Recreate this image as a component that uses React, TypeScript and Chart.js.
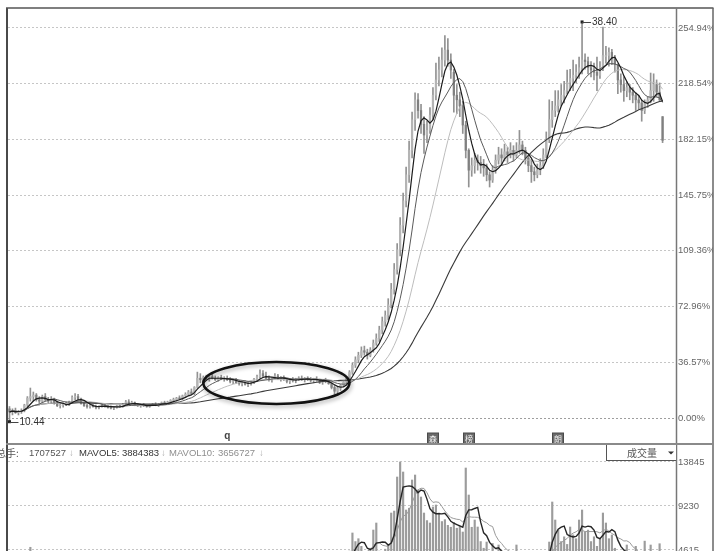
import React, { useEffect, useRef } from 'react';
import { Chart, registerables } from 'chart.js';

Chart.register(...registerables);

// ---------- data ----------
const BASE_PRICE = 10.70; // price at 0.00%
const SLOTS = 224; // category slots on the x axis (last few empty)

// [open, high, low, close] in % change from BASE_PRICE
const candles: [number, number, number, number][] = [
  [6, 7.5, -2.43, 4], [4, 6, 2, 5], [5, 6.5, 3, 3.5], [3.5, 5, 2, 4.5], [4.5, 6, 3, 5],
  [5, 9, 4, 8.5], [8.5, 14, 7.5, 13], [13, 19.6, 11, 14], [14, 17, 11, 15], [15, 16, 11, 12],
  [12, 14, 9.5, 11], [11, 15, 10, 14], [14, 16, 11, 12], [12, 13.5, 10, 11], [11, 14, 10, 12.5],
  [12.5, 13, 9, 10], [10, 11, 7.5, 8], [8, 9.5, 6.5, 8.5], [8.5, 10, 7, 9], [9, 10.5, 8, 8.5],
  [8.5, 11, 8, 10.5], [10.5, 14.5, 10, 13.5], [13.5, 16, 12, 14], [14, 15.5, 11.5, 12.5], [12.5, 13, 9, 9.5],
  [9.5, 10.5, 7.5, 8], [8, 9, 6.5, 7.5], [7.5, 9, 6.5, 8], [8, 9, 7, 7.5], [7.5, 8.5, 6, 7],
  [7, 8, 6, 7.5], [7.5, 9, 7, 8.5], [8.5, 9, 7, 7.5], [7.5, 8.5, 6.5, 7], [7, 8, 6, 6.5],
  [6.5, 7.5, 5.5, 7], [7, 8.5, 6.5, 8], [8, 9, 7, 7.5], [7.5, 9.5, 7, 9], [9, 11.5, 8.5, 10.5],
  [10.5, 12, 9, 9.5], [9.5, 11, 8.5, 10], [10, 10.5, 8, 8.5], [8.5, 9.5, 7.5, 8], [8, 9, 7, 8.5],
  [8.5, 9.5, 7.5, 8], [8, 8.5, 7, 7.5], [7.5, 9, 7, 8.5], [8.5, 9.5, 8, 9], [9, 10, 8, 8.5],
  [8.5, 9.5, 7.5, 9], [9, 10.5, 8.5, 10], [10, 11, 9, 9.5], [9.5, 11, 9, 10.5], [10.5, 12, 10, 11.5],
  [11.5, 13, 10.5, 12], [12, 13.5, 11, 13], [13, 14.5, 12, 12.5], [12.5, 15, 12, 14.5], [14.5, 16.5, 13.5, 15.5],
  [15.5, 18, 14.5, 17], [17, 19, 15.5, 16], [16, 20.5, 15, 20], [20, 30, 19.5, 26], [26, 29, 23, 25],
  [25, 27.5, 23.5, 26.5], [26.5, 28, 24.5, 25.5], [25.5, 27.5, 24, 27], [27, 28.5, 25.5, 26], [26, 27.5, 24.5, 25],
  [25, 27, 24, 26.5], [26.5, 28, 25, 25.5], [25.5, 27, 24, 26], [26, 27.5, 24.5, 25], [25, 26.5, 23, 24],
  [24, 25.5, 22.5, 25], [25, 26, 22.5, 23], [23, 24.5, 21.5, 22.5], [22.5, 24, 21, 23.5], [23.5, 24.5, 21.5, 22],
  [22, 23.5, 20.5, 22.5], [22.5, 24, 21.5, 23.5], [23.5, 26, 22.5, 25.5], [25.5, 28, 24.5, 27], [27, 31.5, 26, 29],
  [29, 31, 26.5, 27.5], [27.5, 30, 25.5, 26], [26, 27.5, 24, 25], [25, 26.5, 23.5, 26], [26, 29, 25, 27.5],
  [27.5, 28.5, 25, 25.5], [25.5, 27, 24, 26.5], [26.5, 27.5, 24.5, 25], [25, 26, 23, 24], [24, 25.5, 22.5, 25],
  [25, 26.5, 23.5, 24.5], [24.5, 26, 23, 25.5], [25.5, 27, 24.5, 26], [26, 27.5, 24.5, 25], [25, 26.5, 23.5, 26],
  [26, 27, 24.5, 25.5], [25.5, 26.5, 23.5, 24.5], [24.5, 26, 23, 25.5], [25.5, 27, 24, 24.5], [24.5, 25.5, 22.5, 23.5],
  [23.5, 25, 22, 24.5], [24.5, 26, 23, 24], [24, 25, 22, 22.5], [22.5, 23.5, 19, 20], [20, 21.5, 15.5, 17.5],
  [17.5, 20.5, 16, 19.5], [19.5, 22, 18, 21.5], [21.5, 24, 20.5, 23.5], [23.5, 26.5, 22.5, 26], [26, 31, 25, 30],
  [30, 36, 28.5, 34.5], [34.5, 40, 33, 38], [38, 43, 36, 41], [41, 46.5, 39.5, 44], [44, 47, 41, 43],
  [43, 45, 38.5, 41], [41, 46, 40, 44.5], [44.5, 51, 43, 49], [49, 55, 47.5, 52], [52, 60, 50, 57.5],
  [57.5, 66, 55, 63], [63, 70, 60, 67], [67, 78, 64, 74], [74, 88, 72, 84], [84, 101, 81, 97],
  [97, 114, 94, 110], [110, 131, 106, 126], [126, 147, 121, 142], [142, 164, 138, 159], [159, 181, 154, 175],
  [175, 200, 170, 195], [195, 212.5, 188, 208], [208, 212, 196, 201], [201, 205, 186, 192], [192, 197, 173, 185],
  [185, 194, 180, 188], [188, 203, 186, 198], [198, 216, 195, 211], [211, 232, 208, 221], [221, 236, 217, 227.5],
  [227.5, 242, 223, 234], [234, 250, 230, 240.5], [240.5, 248, 230, 234], [234, 238, 222, 227.5], [226, 228, 200, 211],
  [211, 218, 199, 208], [208, 213, 197, 204], [204, 207, 186, 191.5], [191.5, 194, 170, 175], [175, 176, 151, 162],
  [162, 170, 158, 165], [165, 173, 160, 168.5], [168.5, 172, 162, 167], [167, 171, 160, 165], [165, 169, 158, 163.5],
  [163.5, 166, 155, 159], [159, 161, 151, 155.5], [155.5, 165, 154, 162], [162, 172, 160, 168.5], [168.5, 177, 166, 172],
  [172, 176, 165, 170], [170, 179, 168, 174], [174, 177, 167, 172], [172, 180, 170, 175], [175, 178, 168, 172],
  [172, 180, 170, 175], [175, 188, 173, 178.5], [178.5, 181, 172, 175], [175, 177, 166, 170], [170, 172, 161, 165],
  [165, 169, 154, 161], [161, 164, 155, 159], [159, 166, 157, 162], [162, 169.5, 159, 165], [165, 176, 163, 172],
  [172, 187, 170, 182], [182, 208, 180, 195], [195, 207, 190, 201], [201, 214, 197, 204], [204, 214, 200, 208],
  [208, 218, 204, 211], [211, 220, 206, 214], [214, 227.5, 212, 219.5], [219.5, 228, 214, 222], [222, 234, 214, 224],
  [224, 231, 219, 226], [226, 236, 222, 229], [229, 258.9, 225, 234], [234, 238, 228, 233], [233, 236, 225, 229],
  [229, 233, 223, 227.5], [227.5, 232, 221, 226], [226, 236, 214, 224], [224, 233, 222, 229], [229, 255.5, 227, 237],
  [237, 243, 232, 237], [237, 242, 230, 239], [239, 241, 231, 235], [235, 237, 226, 231], [231, 231.5, 212, 221],
  [221, 225, 213, 218], [218, 223, 207, 214], [214, 220, 210, 216], [216, 218, 208, 213], [213, 216, 206, 211],
  [211, 212.5, 201, 208], [208, 211, 202, 206], [206, 208, 194, 201], [201, 208, 199, 205.5], [205.5, 210, 203, 208],
  [208, 225.5, 206, 214], [214, 225, 207, 218], [218, 221, 210, 213], [213, 219, 207, 208], [197, 197, 180, 181.5],
];

// volume per bar (axis units)
const volumes: number[] = [
  1800, 1500, 1300, 1400, 1600, 2600, 3800, 4900, 3600, 2500,
  2000, 2300, 1900, 1600, 1700, 1500, 1300, 1200, 1400, 1300,
  1600, 2600, 3100, 2400, 1800, 1400, 1200, 1100, 1000, 1100,
  900, 1000, 1200, 1000, 900, 850, 950, 1100, 1300, 1900,
  1700, 1400, 1200, 1000, 950, 1000, 900, 1100, 1200, 1100,
  1200, 1500, 1400, 1600, 1900, 2100, 2300, 2000, 2400, 2700,
  3000, 2800, 3400, 4300, 3900, 3200, 2800, 2600, 2400, 2200,
  2300, 2100, 2000, 1900, 2000, 1800, 1700, 1900, 1600, 1700,
  1800, 2000, 2400, 2900, 3600, 3100, 2600, 2200, 2000, 2300,
  2100, 1900, 1800, 1700, 1900, 1800, 1700, 1900, 2000, 1800,
  1700, 1600, 1800, 1700, 1600, 1500, 1700, 1900, 2400, 3000,
  2600, 2800, 3200, 3900, 4500, 6400, 5500, 5800, 5000, 4200,
  3500, 4800, 6710, 7446, 4500, 3800, 4700, 5200, 8494, 8700,
  12271, 13845, 12796, 8810, 9000, 11957, 12481, 10908, 10173, 8494,
  7700, 7446, 9125, 9335, 8494, 7600, 7800, 7200, 7000, 7500,
  6900, 7100, 6500, 13215, 10383, 7000, 7760, 7027, 5500, 4800,
  5450, 4300, 5300, 4000, 5140, 3800, 3600, 4200, 3500, 3900,
  5140, 3400, 3600, 3100, 3300, 3800, 3500, 3200, 3600, 4000,
  4400, 5450, 9650, 7760, 6700, 5500, 6000, 5200, 7027, 6200,
  5800, 7760, 8810, 6500, 6700, 5500, 6000, 5000, 5800, 8494,
  7446, 5800, 6190, 4800, 4000, 4200, 3900, 5140, 4000, 4200,
  5000, 2700, 2400, 5545.4, 1500, 5140, 4300, 3000, 5274.4, 1707.5,
];

const priceTicks = [0, 36.57, 72.96, 109.36, 145.75, 182.15, 218.54, 254.94];
const volumeTicks = [4615, 9230, 13845];
const maPeriods = [5, 10, 20, 50];
const maColors = ['#1c1c1c', '#5a5a5a', '#bdbdbd', '#3a3a3a'];
const maWidths = [1.2, 1, 1, 1.1];
const volMaPeriods = [5, 10];
const volMaColors = ['#262626', '#9a9a9a'];
const legendParts = ['总手:', '1707527', '↓', 'MAVOL5:', '3884383', '↓', 'MAVOL10:', '3656727', '↓'];
const eventMarkers = [
  { bar: 73, text: 'q', boxed: false },
  { bar: 142, text: '森', boxed: true },
  { bar: 154, text: '榜', boxed: true },
  { bar: 184, text: '朗', boxed: true },
];
const ellipseRange = { fromBar: 65, toBar: 114, topPct: 36.6, bottomPct: 9.2 };
const PANEL_TITLE = '成交量';

// axis ranges
const PRICE_MIN = -16.34;
const PRICE_MAX = 267.36;
const VOL_MIN = 4510;
const VOL_MAX = 15628;

// ---------- layout ----------
const W = 720;
const MAIN_H = 445;
const VOL_H = 106;
const AXIS_W = 44;
const OUTER_RIGHT = 713;
const FONT = '"Liberation Sans", Arial, "Noto Sans CJK SC", sans-serif';
const CJK = '"Noto Sans CJK SC", "Liberation Sans", sans-serif';

function movingAverage(values: number[], period: number): number[] {
  return values.map((_, i) => {
    const start = Math.max(0, i - period + 1);
    let s = 0;
    for (let k = start; k <= i; k++) s += values[k];
    return s / (i - start + 1);
  });
}

const labels = Array.from({ length: SLOTS }, (_, i) => String(i));
const closes = candles.map((c) => c[3]);

function line(ctx: any, x1: number, y1: number, x2: number, y2: number) {
  ctx.beginPath();
  ctx.moveTo(x1, y1);
  ctx.lineTo(x2, y2);
  ctx.stroke();
}

const mainDecor = {
  id: 'mainDecor',
  afterDatasetsDraw(chart: any) {
    const { ctx, chartArea: a } = chart;
    const xs = chart.scales.x;
    const ys = chart.scales.y;
    // ellipse annotation
    const x1 = xs.getPixelForValue(ellipseRange.fromBar);
    const x2 = xs.getPixelForValue(ellipseRange.toBar);
    const y1 = ys.getPixelForValue(ellipseRange.topPct);
    const y2 = ys.getPixelForValue(ellipseRange.bottomPct);
    ctx.save();
    ctx.shadowColor = 'rgba(0,0,0,0.35)';
    ctx.shadowBlur = 4;
    ctx.shadowOffsetX = 1;
    ctx.shadowOffsetY = 2;
    ctx.strokeStyle = '#121212';
    ctx.lineWidth = 2.6;
    ctx.beginPath();
    ctx.ellipse((x1 + x2) / 2, (y1 + y2) / 2, (x2 - x1) / 2, (y2 - y1) / 2, 0, 0, Math.PI * 2);
    ctx.stroke();
    ctx.restore();

    // extreme labels
    let hi = 0;
    let lo = 0;
    candles.forEach((c, i) => {
      if (c[1] > candles[hi][1]) hi = i;
      if (c[2] < candles[lo][2]) lo = i;
    });
    const extreme = (idx: number, pct: number) => {
      const px = xs.getPixelForValue(idx);
      const py = ys.getPixelForValue(pct);
      ctx.save();
      ctx.fillStyle = '#222';
      ctx.fillRect(px - 1.5, py - 1.5, 3, 3);
      ctx.strokeStyle = '#444';
      ctx.lineWidth = 1;
      line(ctx, px, Math.round(py) + 0.5, px + 9, Math.round(py) + 0.5);
      ctx.fillStyle = '#333';
      ctx.font = `10px ${FONT}`;
      ctx.textBaseline = 'middle';
      ctx.textAlign = 'left';
      ctx.fillText((BASE_PRICE * (1 + pct / 100)).toFixed(2), px + 10, py + 0.5);
      ctx.restore();
    };
    extreme(hi, candles[hi][1]);
    extreme(lo, candles[lo][2]);

    // event markers along the bottom
    eventMarkers.forEach((m) => {
      const px = xs.getPixelForValue(m.bar);
      ctx.save();
      if (m.boxed) {
        ctx.fillStyle = '#6a6a6a';
        ctx.fillRect(Math.round(px) - 5.5, a.bottom - 10, 11, 11);
        ctx.strokeStyle = '#4a4a4a';
        ctx.lineWidth = 1;
        ctx.strokeRect(Math.round(px) - 5.5, a.bottom - 10, 11, 11);
        ctx.fillStyle = '#f4f4f4';
        ctx.font = `8px ${CJK}`;
        ctx.textAlign = 'center';
        ctx.textBaseline = 'middle';
        ctx.fillText(m.text, Math.round(px), a.bottom - 4.5);
      } else {
        ctx.fillStyle = '#444';
        ctx.font = `bold 10px ${FONT}`;
        ctx.textAlign = 'center';
        ctx.textBaseline = 'middle';
        ctx.fillText(m.text, px, a.bottom - 7);
      }
      ctx.restore();
    });
  },
  afterDraw(chart: any) {
    const { ctx, chartArea: a, width, height } = chart;
    ctx.save();
    ctx.fillStyle = '#fff';
    ctx.fillRect(OUTER_RIGHT, 0, width - OUTER_RIGHT, height);
    ctx.fillRect(0, 0, width, a.top - 1.5);
    ctx.strokeStyle = '#4a4a4a';
    ctx.lineWidth = 2;
    line(ctx, a.left - 1, a.top - 1, a.left - 1, height);
    ctx.lineWidth = 1.5;
    ctx.strokeStyle = '#555';
    line(ctx, a.left - 2, a.top - 1, OUTER_RIGHT + 0.5, a.top - 1);
    ctx.strokeStyle = '#777';
    line(ctx, a.right + 0.5, a.top - 1, a.right + 0.5, height);
    ctx.strokeStyle = '#666';
    line(ctx, OUTER_RIGHT, a.top - 1, OUTER_RIGHT, height);
    ctx.strokeStyle = '#8a8a8a';
    ctx.lineWidth = 2;
    line(ctx, a.left - 2, a.bottom + 1, OUTER_RIGHT + 0.5, a.bottom + 1);
    ctx.restore();
  },
};

const volDecor = {
  id: 'volDecor',
  afterDraw(chart: any) {
    const { ctx, chartArea: a, width, height } = chart;
    ctx.save();
    ctx.fillStyle = '#fff';
    ctx.fillRect(OUTER_RIGHT, 0, width - OUTER_RIGHT, height);
    ctx.strokeStyle = '#4a4a4a';
    ctx.lineWidth = 2;
    line(ctx, a.left - 1, 0, a.left - 1, height);
    ctx.lineWidth = 1.5;
    ctx.strokeStyle = '#777';
    line(ctx, a.right + 0.5, 0, a.right + 0.5, height);
    ctx.strokeStyle = '#666';
    line(ctx, OUTER_RIGHT, 0, OUTER_RIGHT, height);

    // indicator selector box
    ctx.fillStyle = '#fff';
    ctx.fillRect(a.right - 69, 0, 69, 15.5);
    ctx.strokeStyle = '#555';
    ctx.lineWidth = 1;
    line(ctx, a.right - 69.5, 0, a.right - 69.5, 16);
    line(ctx, a.right - 69.5, 15.5, a.right, 15.5);
    ctx.fillStyle = '#555';
    ctx.font = `10px ${CJK}`;
    ctx.textAlign = 'left';
    ctx.textBaseline = 'middle';
    ctx.fillText(PANEL_TITLE, a.right - 49, 8);
    ctx.fillStyle = '#333';
    ctx.beginPath();
    ctx.moveTo(a.right - 8, 6.5);
    ctx.lineTo(a.right - 2, 6.5);
    ctx.lineTo(a.right - 5, 9.5);
    ctx.closePath();
    ctx.fill();

    // legend line
    const xsPos = [-4, 29, 69, 79, 122, 161, 169, 218, 259];
    const colors = ['#555', '#555', '#b0b0b0', '#333', '#333', '#b0b0b0', '#8e8e8e', '#8e8e8e', '#b0b0b0'];
    legendParts.forEach((t, i) => {
      ctx.fillStyle = colors[i];
      ctx.font = i === 0 ? `10px ${CJK}` : `9.5px ${FONT}`;
      ctx.textAlign = 'left';
      ctx.textBaseline = 'middle';
      ctx.fillText(t, xsPos[i], 8.5);
    });
    ctx.restore();
  },
};

function mainConfig(): any {
  const wicks = candles.map((c) => [c[2], c[1]]);
  const bodies = candles.map((c) => [Math.min(c[0], c[3]), Math.max(c[0], c[3])]);
  const bodyColors = candles.map((c) => (c[3] >= c[0] ? '#b4b4b4' : '#808080'));
  const maSets = maPeriods.map((p, k) => ({
    type: 'line',
    data: movingAverage(closes, p),
    borderColor: maColors[k],
    borderWidth: maWidths[k],
    pointRadius: 0,
    tension: 0,
    order: 1 + k,
  }));
  return {
    type: 'bar',
    data: {
      labels,
      datasets: [
        ...maSets,
        { type: 'bar', data: bodies, backgroundColor: bodyColors, barThickness: 1.6, grouped: false, minBarLength: 1, order: 9 },
        { type: 'bar', data: wicks, backgroundColor: '#929292', barThickness: 1, grouped: false, order: 10 },
      ],
    },
    options: {
      animation: false,
      responsive: false,
      devicePixelRatio: 1,
      events: [],
      layout: { padding: { left: 8, top: 9, right: 0, bottom: 2 } },
      plugins: { legend: { display: false }, tooltip: { enabled: false } },
      scales: {
        x: { type: 'category', display: false, offset: true, grid: { display: false } },
        y: {
          type: 'linear',
          position: 'right',
          min: PRICE_MIN,
          max: PRICE_MAX,
          afterBuildTicks: (s: any) => {
            s.ticks = priceTicks.map((v) => ({ value: v }));
          },
          afterFit: (s: any) => {
            s.width = AXIS_W;
            s.paddingTop = 0;
            s.paddingBottom = 0;
          },
          grid: {
            color: (c: any) => (c.tick && c.tick.value === 0 ? '#9e9e9e' : '#c6c6c6'),
            lineWidth: 1,
            drawTicks: false,
          },
          border: { display: false, dash: [2, 2] },
          ticks: {
            autoSkip: false,
            padding: 2,
            color: '#666',
            font: { family: FONT, size: 9.5 },
            callback: (v: any) => Number(v).toFixed(2) + '%',
          },
        },
      },
    },
    plugins: [mainDecor],
  };
}

function volConfig(): any {
  const maSets = volMaPeriods.map((p, k) => ({
    type: 'line',
    data: movingAverage(volumes, p),
    borderColor: volMaColors[k],
    borderWidth: k === 0 ? 1.4 : 1,
    pointRadius: 0,
    tension: 0,
    order: 1 + k,
  }));
  return {
    type: 'bar',
    data: {
      labels,
      datasets: [
        ...maSets,
        { type: 'bar', data: volumes, backgroundColor: '#9c9c9c', barThickness: 1.5, grouped: false, order: 10 },
      ],
    },
    options: {
      animation: false,
      responsive: false,
      devicePixelRatio: 1,
      events: [],
      layout: { padding: { left: 8, top: 0, right: 0, bottom: 0 } },
      plugins: { legend: { display: false }, tooltip: { enabled: false } },
      scales: {
        x: { type: 'category', display: false, offset: true, grid: { display: false } },
        y: {
          type: 'linear',
          position: 'right',
          min: VOL_MIN,
          max: VOL_MAX,
          afterBuildTicks: (s: any) => {
            s.ticks = volumeTicks.map((v) => ({ value: v }));
          },
          afterFit: (s: any) => {
            s.width = AXIS_W;
            s.paddingTop = 0;
            s.paddingBottom = 0;
          },
          grid: { color: '#c6c6c6', lineWidth: 1, drawTicks: false },
          border: { display: false, dash: [2, 2] },
          ticks: {
            autoSkip: false,
            padding: 2,
            color: '#666',
            font: { family: FONT, size: 9.5 },
            callback: (v: any) => String(v),
          },
        },
      },
    },
    plugins: [volDecor],
  };
}

export default function App() {
  const mainRef = useRef<HTMLCanvasElement>(null);
  const volRef = useRef<HTMLCanvasElement>(null);
  useEffect(() => {
    const main = new Chart(mainRef.current as HTMLCanvasElement, mainConfig());
    const vol = new Chart(volRef.current as HTMLCanvasElement, volConfig());
    return () => {
      main.destroy();
      vol.destroy();
    };
  }, []);
  return (
    <div style={{ position: 'fixed', left: 0, top: 0, width: W, height: MAIN_H + VOL_H, background: '#fff', overflow: 'hidden' }}>
      <canvas ref={mainRef} width={W} height={MAIN_H} style={{ position: 'absolute', left: 0, top: 0, width: W, height: MAIN_H }} />
      <canvas ref={volRef} width={W} height={VOL_H} style={{ position: 'absolute', left: 0, top: MAIN_H, width: W, height: VOL_H }} />
    </div>
  );
}
